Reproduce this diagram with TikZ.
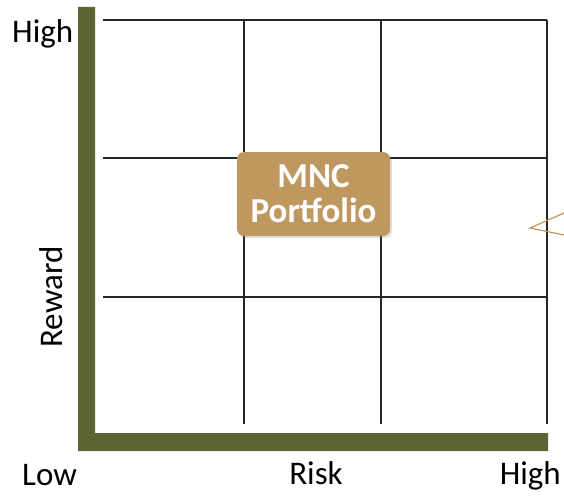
\documentclass[tikz,border=0pt]{standalone}
\usepackage{fontspec}
\setmainfont{Carlito}
\usetikzlibrary{shadows}
\definecolor{axisgreen}{RGB}{91,102,52}
\definecolor{boxtan}{RGB}{190,152,95}
\begin{document}
\begin{tikzpicture}[x=1pt, y=-1pt,
        lbl/.style={font=\fontsize{33}{35}\selectfont, inner sep=0pt, anchor=base},
        grid/.style={line width=1.4pt, black!85}]
    \useasboundingbox (0,0) rectangle (564,495);
    % grid
    \foreach \y in {20,158,297} \draw [grid](103,\y)--(547,\y);
    \foreach \x in {244,381,547} \draw [grid](\x,20)--(\x,424);
    % axes
    \fill [axisgreen](78,7)--(95,7)--(95,433)--(548,433)--(548,451)--(78,451)--cycle;
    \node [lbl, anchor=base west] (high-y) at (12,42) {High};
    \node [lbl, rotate=90] (reward) at (62,297) {Reward};
    \node [lbl, anchor=base west] (low) at (22,485) {Low};
    \node [lbl] (risk) at (316,484) {Risk};
    \node [lbl, anchor=base east] (high-x) at (561,484) {High};
    \node [fill=boxtan, rounded corners=7pt, minimum width=153pt, minimum height=84pt,
        drop shadow={opacity=0.25, shadow xshift=2pt, shadow yshift=-2pt},
        text=white, align=center, font=\fontsize{35}{35}\selectfont\bfseries] (mnc) at (313.5,194) {MNC\\Portfolio};
    \draw [boxtan, line width=1.2pt](564,213)--(530,228)--(564,235);
\end{tikzpicture}
\end{document}
